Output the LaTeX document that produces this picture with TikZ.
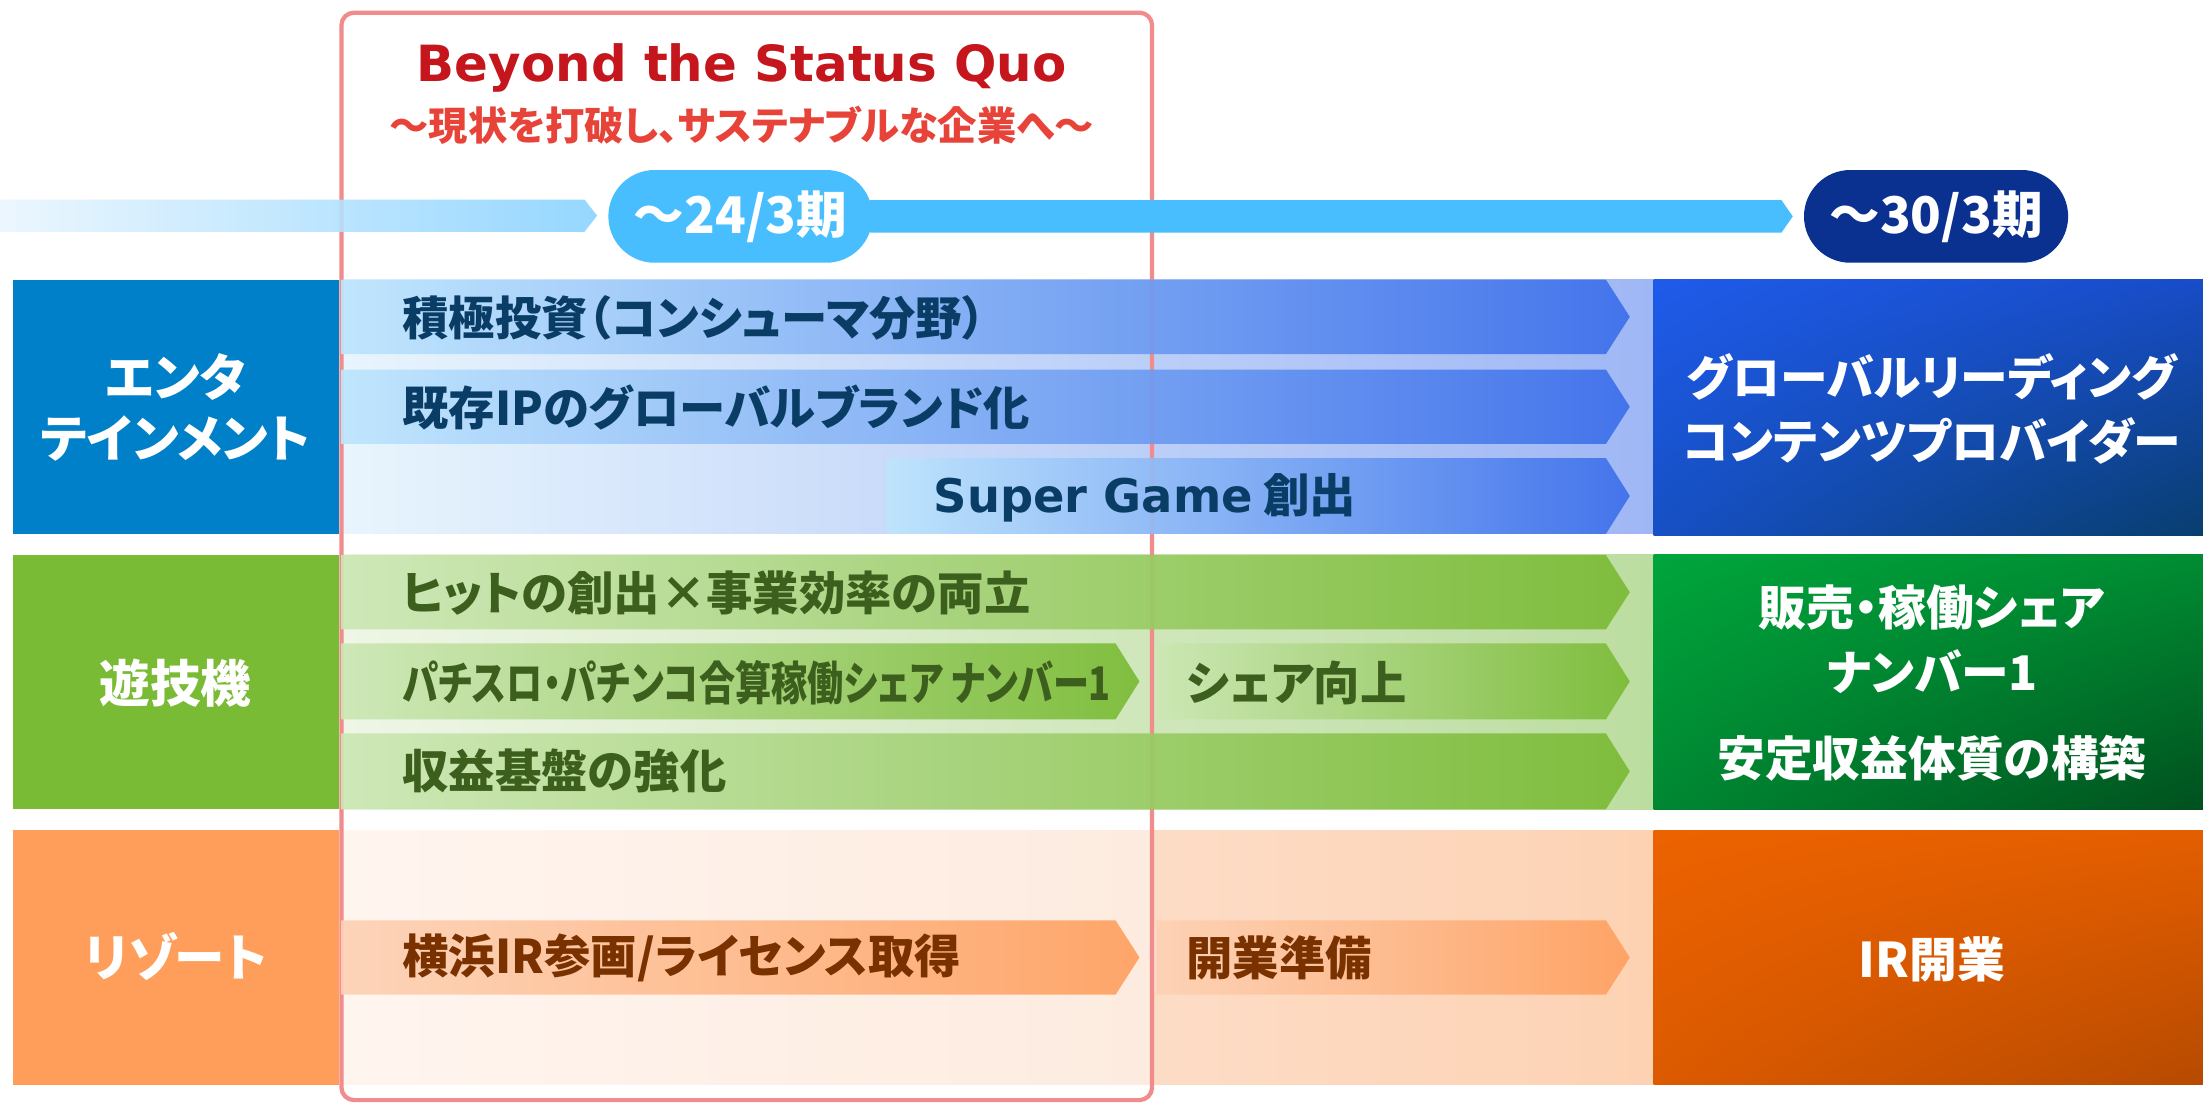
\documentclass[tikz,border=0pt]{standalone}
\usepackage{graphicx}
\usepackage{fontspec}
\newfontfamily\jp[RawFeature=+palt]{Noto Sans CJK JP}
\newfontfamily\lat{DejaVu Sans}
\usetikzlibrary{shapes.misc,calc,shadings}
\definecolor{frameC}{HTML}{F08C8C}
\definecolor{titleC}{HTML}{C4161C}
\definecolor{subC}{HTML}{E84338}
\definecolor{pillA}{HTML}{48BEFE}
\definecolor{pillB}{HTML}{0B3190}
\definecolor{tlL}{HTML}{EAF6FE}
\definecolor{tlR}{HTML}{8BD3FF}
\definecolor{labB}{HTML}{0080C8}
\definecolor{labG}{HTML}{7ABB35}
\definecolor{labO}{HTML}{FF9E5A}
\definecolor{bgBL}{HTML}{E8F5FD}
\definecolor{bgBR}{HTML}{9FB7F5}
\definecolor{bgGL}{HTML}{EEF6E6}
\definecolor{bgGR}{HTML}{BCDDA0}
\definecolor{bgOL}{HTML}{FFF5EF}
\definecolor{bgOM}{HTML}{FDEBDF}
\definecolor{bgON}{HTML}{FDDCC6}
\definecolor{bgOR}{HTML}{FDD2B3}
\definecolor{barBL}{HTML}{BDE5FD}
\definecolor{barBR}{HTML}{3D6FEB}
\definecolor{barGL}{HTML}{CCE7B4}
\definecolor{barGR}{HTML}{7ABB35}
\definecolor{barOL}{HTML}{FDD2B5}
\definecolor{barOR}{HTML}{FFA060}
\definecolor{txtB}{HTML}{0A3D66}
\definecolor{txtG}{HTML}{3D5F1E}
\definecolor{txtO}{HTML}{7A3100}
\definecolor{gbUL}{HTML}{1F5BEA}
\definecolor{gbUR}{HTML}{184CC8}
\definecolor{gbLL}{HTML}{1650C4}
\definecolor{gbLR}{HTML}{083E6E}
\definecolor{ggUL}{HTML}{00A53C}
\definecolor{ggUR}{HTML}{008C32}
\definecolor{ggLL}{HTML}{008732}
\definecolor{ggLR}{HTML}{00501E}
\definecolor{goUL}{HTML}{EC6200}
\definecolor{goUR}{HTML}{E45E00}
\definecolor{goLL}{HTML}{DC5A00}
\definecolor{goLR}{HTML}{B64A00}
\newcommand\barchev[6]{\shade[left color=#5,right color=#6,fill opacity=.92] (#1,#3) -- (#2,#3) -- ({#2+17},{(#3+#4)/2}) -- (#2,#4) -- (#1,#4) -- cycle;}
\begin{document}
\begin{tikzpicture}[x=1pt,y=-1pt,
  lbl/.style={text=white,align=center,font={\jp\bfseries\fontsize{36}{44}\selectfont}},
  goal/.style={text=white,align=center,font={\jp\bfseries\fontsize{34}{46}\selectfont}},
  bt/.style={anchor=west,font={\jp\bfseries\fontsize{33}{40}\selectfont}},
  pilltxt/.style={text=white,font={\jp\bfseries\fontsize{36}{40}\selectfont},minimum width=188,minimum height=66,rounded corners=33,inner sep=0pt},
  frame/.style={draw=frameC,line width=3pt,rounded corners=9}]
\useasboundingbox (0,0) rectangle (1568,785);
\fill[white] (0,0) rectangle (1568,785);
% row backgrounds
\shade[left color=bgBL,right color=bgBR] (243,199) rectangle (1177,380);
\shade[left color=bgGL,right color=bgGR] (243,395) rectangle (1177,576);
\shade[left color=bgOL,right color=bgOM] (243,591) rectangle (820,772);
\shade[left color=bgON,right color=bgOR] (820,591) rectangle (1177,772);
% frame
\draw[frame] (243,9) rectangle (820,783);
% title
\node[text=titleC,font={\lat\bfseries\fontsize{35.5}{40}\selectfont}] (title) at (528,48) {Beyond the Status Quo};
\node[text=subC,font={\jp\bfseries\fontsize{28}{32}\selectfont}] (sub) at (528,89) {～現状を打破し、サステナブルな企業へ～};
% timeline
\shade[left color=tlL,right color=tlR,fill opacity=.9] (0,142) -- (416,142) -- (425,153.5) -- (416,165) -- (0,165) -- cycle;
\node[pilltxt,fill=pillA] (p24) at (527,154) {～24/3期};
\fill[pillA] ($(p24.east)+(-2,-11.5)$) -- (1268,142.5) -- (1276,154) -- (1268,165.5) -- ($(p24.east)+(-2,11.5)$) -- cycle;
\node[pilltxt,fill=pillB] (p30) at (1378,154) {～30/3期};
% left labels
\fill[labB] (9,199) rectangle (241,380);
\fill[labG] (9,395) rectangle (241,576);
\fill[labO] (9,591) rectangle (241,772);
\node[lbl] (lent) at (125,290) {エンタ\\テインメント};
\node[lbl] (lpac) at (125,486) {遊技機};
\node[lbl] (lres) at (125,681) {リゾート};
% entertainment bars
\barchev{243}{1143}{199}{252}{barBL}{barBR}
\barchev{243}{1143}{263}{316}{barBL}{barBR}
\barchev{631}{1143}{326}{380}{barBL}{barBR}
\node[bt,text=txtB] (e1) at (283,226) {積極投資（コンシューマ分野）};
\node[bt,text=txtB] (e2) at (283,290) {既存IPのグローバルブランド化};
\node[bt,text=txtB] (e3) at (661,354) {{\lat Super Game} 創出};
% pachinko bars
\barchev{243}{1143}{395}{448}{barGL}{barGR}
\barchev{243}{794}{458}{512}{barGL}{barGR}
\barchev{823}{1143}{458}{512}{barGL}{barGR}
\barchev{243}{1143}{522}{576}{barGL}{barGR}
\node[bt,text=txtG] (g1) at (283,422) {ヒットの創出×事業効率の両立};
\node[bt,text=txtG] (g2) at (283,486) {\scalebox{0.78}[1]{パチスロ・パチンコ合算稼働シェア ナンバー1}};
\node[bt,text=txtG] (g3) at (841,486) {シェア向上};
\node[bt,text=txtG] (g4) at (283,549) {収益基盤の強化};
% resort bars
\barchev{243}{794}{655}{708}{barOL}{barOR}
\barchev{823}{1143}{655}{708}{barOL}{barOR}
\node[bt,text=txtO] (o1) at (283,682) {横浜IR参画/ライセンス取得};
\node[bt,text=txtO] (o2) at (841,682) {開業準備};
% goal boxes
\shade[upper left=gbUL,upper right=gbUR,lower left=gbLL,lower right=gbLR] (1177,199) rectangle (1568,381);
\shade[upper left=ggUL,upper right=ggUR,lower left=ggLL,lower right=ggLR] (1177,395) rectangle (1568,576);
\shade[upper left=goUL,upper right=goUR,lower left=goLL,lower right=goLR] (1177,591) rectangle (1568,772);
\node[goal] (ge) at (1375,291) {グローバルリーディング\\コンテンツプロバイダー};
\node[goal] (gg1) at (1375,455) {販売・稼働シェア\\ナンバー1};
\node[goal] (gg2) at (1375,540) {安定収益体質の構築};
\node[goal] (go) at (1375,683) {IR開業};
\end{tikzpicture}
\end{document}
